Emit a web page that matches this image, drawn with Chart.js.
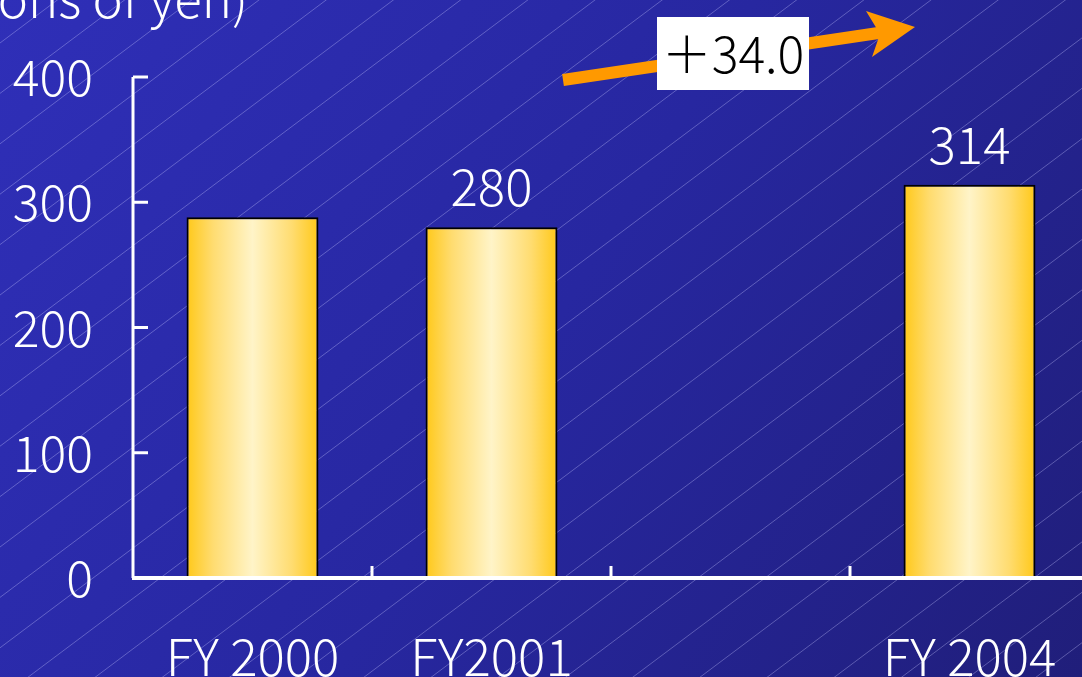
<!DOCTYPE html>
<html>
<head>
<meta charset="utf-8">
<script src="https://cdn.jsdelivr.net/npm/chart.js@4/dist/chart.umd.min.js"></script>
<style>
  html, body { margin: 0; padding: 0; background: #2a2aa8; overflow: hidden; }
  #wrap { width: 1082px; height: 677px; overflow: hidden; }
  canvas { display: block; }
</style>
</head>
<body>
<div id="wrap"><canvas id="c" width="1089" height="677"></canvas></div>
<script>
// Fiscal years on the x axis (the third slot is left empty)
const categories = ['FY 2000', 'FY2001', '', 'FY 2004'];
// Sales, hundred millions of yen
const salesValues = [288, 280, null, 314];
// Bars that carry a value label above them
const labelledBars = [1, 3];
// Y axis ticks
const yTicks = [0, 100, 200, 300, 400];
const unitLabel = '(Hundred millions of yen)';

const FONT = '"Noto Sans CJK JP", "Noto Sans", sans-serif';
const BAR_FRACTION = 0.552;

function barGradient(ctx) {
  const chart = ctx.chart;
  const xs = chart.scales.x;
  if (!chart.chartArea || !xs || ctx.dataIndex === undefined) return '#ffd040';
  const cx = xs.getPixelForValue(ctx.dataIndex);
  const half = (xs.width / categories.length) * BAR_FRACTION / 2;
  const g = chart.ctx.createLinearGradient(cx - half, 0, cx + half, 0);
  g.addColorStop(0, '#ffc818');
  g.addColorStop(0.2, '#ffdc70');
  g.addColorStop(0.5, '#fff4c8');
  g.addColorStop(0.8, '#ffdc70');
  g.addColorStop(1, '#ffc818');
  return g;
}

// Gradient backdrop with thin diagonal hatching
const backdrop = {
  id: 'backdrop',
  beforeDraw(chart) {
    const { ctx, width, height } = chart;
    ctx.save();
    const g = ctx.createLinearGradient(0, 0, width, height);
    g.addColorStop(0, '#2f2fb8');
    g.addColorStop(0.5, '#2727a0');
    g.addColorStop(1, '#201e7a');
    ctx.fillStyle = g;
    ctx.fillRect(0, 0, width, height);
    ctx.strokeStyle = 'rgba(200,200,255,0.35)';
    ctx.lineWidth = 1;
    const step = 50.4, slope = 0.75;
    for (let c = 43 - step * 2; c < height + slope * width + step; c += step) {
      ctx.beginPath();
      ctx.moveTo(0, c);
      ctx.lineTo(width, c - slope * width);
      ctx.stroke();
    }
    ctx.restore();
  }
};

// Axis lines, inward tick marks, value labels, unit label and change arrow
const overlay = {
  id: 'overlay',
  afterDatasetsDraw(chart) {
    const { ctx, chartArea: a, scales: { x, y } } = chart;
    ctx.save();
    ctx.strokeStyle = '#ffffff';
    ctx.lineCap = 'butt';
    // y axis
    ctx.lineWidth = 3;
    ctx.beginPath();
    ctx.moveTo(a.left, y.getPixelForValue(400));
    ctx.lineTo(a.left, y.getPixelForValue(0));
    ctx.stroke();
    yTicks.forEach(v => {
      const py = y.getPixelForValue(v);
      ctx.beginPath();
      ctx.moveTo(a.left, py);
      ctx.lineTo(a.left + 15, py);
      ctx.stroke();
    });
    // x axis
    ctx.lineWidth = 4;
    ctx.beginPath();
    ctx.moveTo(a.left - 1, a.bottom);
    ctx.lineTo(a.right, a.bottom);
    ctx.stroke();
    ctx.lineWidth = 3;
    const slot = x.width / categories.length;
    for (let i = 1; i < categories.length; i++) {
      const px = a.left + slot * i;
      ctx.beginPath();
      ctx.moveTo(px, a.bottom);
      ctx.lineTo(px, a.bottom - 12);
      ctx.stroke();
    }

    // value labels above bars
    const meta = chart.getDatasetMeta(0);
    ctx.fillStyle = '#ffffff';
    ctx.font = '300 51px ' + FONT;
    ctx.textAlign = 'center';
    ctx.textBaseline = 'alphabetic';
    labelledBars.forEach(i => {
      const bar = meta.data[i];
      ctx.fillText(String(salesValues[i]), bar.x, bar.y - 21);
    });

    // unit label
    ctx.textAlign = 'right';
    ctx.fillText(unitLabel, 248, 18);

    // change arrow
    const change = salesValues[3] - salesValues[1];
    ctx.strokeStyle = '#ff9900';
    ctx.fillStyle = '#ff9900';
    ctx.lineWidth = 12;
    ctx.beginPath();
    ctx.moveTo(563, 80);
    ctx.lineTo(885, 32);
    ctx.stroke();
    ctx.beginPath();
    ctx.moveTo(915, 27);
    ctx.lineTo(866, 11);
    ctx.lineTo(880, 34);
    ctx.lineTo(872, 57);
    ctx.closePath();
    ctx.fill();

    // change box
    ctx.fillStyle = '#ffffff';
    ctx.fillRect(657, 17, 152, 73);
    ctx.fillStyle = '#000000';
    ctx.textAlign = 'center';
    ctx.font = '300 50px ' + FONT;
    ctx.fillText('＋' + change.toFixed(1), 733, 73);
    ctx.restore();
  }
};

new Chart(document.getElementById('c'), {
  type: 'bar',
  data: {
    labels: categories,
    datasets: [{
      data: salesValues,
      backgroundColor: barGradient,
      borderColor: '#000000',
      borderWidth: 2,
      borderSkipped: false,
      categoryPercentage: 1,
      barPercentage: BAR_FRACTION
    }]
  },
  options: {
    responsive: false,
    animation: false,
    devicePixelRatio: 1,
    layout: { padding: { top: 77, left: 0, right: 0, bottom: 0 } },
    plugins: { legend: { display: false }, tooltip: { enabled: false } },
    scales: {
      x: {
        grid: { display: false, drawTicks: false },
        border: { display: false },
        ticks: { color: '#ffffff', font: { family: FONT, size: 51, weight: 300 }, padding: 48, maxRotation: 0, autoSkip: false },
        afterFit(s) { s.height = 99; s.paddingLeft = 0; s.paddingRight = 0; }
      },
      y: {
        min: 0, max: 400,
        grid: { display: false, drawTicks: false },
        border: { display: false },
        ticks: { stepSize: 100, color: '#ffffff', font: { family: FONT, size: 50, weight: 300 }, padding: 40 },
        afterFit(s) { s.width = 133; }
      }
    }
  },
  plugins: [backdrop, overlay]
});
</script>
</body>
</html>
